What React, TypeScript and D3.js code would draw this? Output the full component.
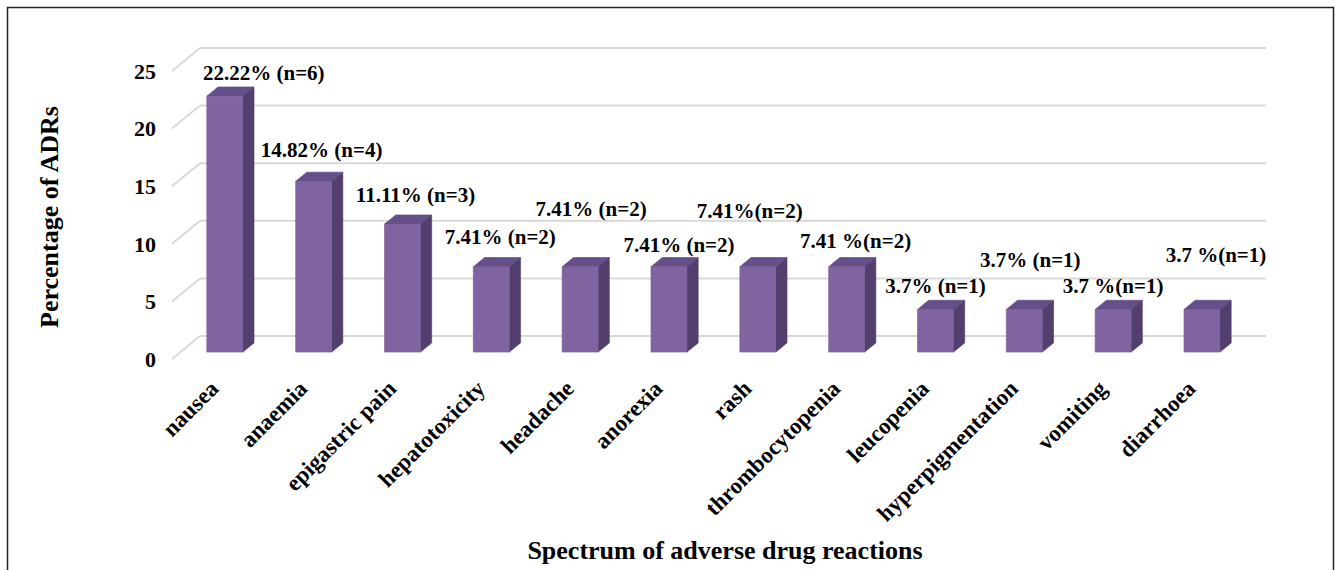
import React from "react";
import * as d3 from "d3";

const categories = [
  "nausea",
  "anaemia",
  "epigastric pain",
  "hepatotoxicity",
  "headache",
  "anorexia",
  "rash",
  "thrombocytopenia",
  "leucopenia",
  "hyperpigmentation",
  "vomiting",
  "diarrhoea",
];
const values = [22.22, 14.82, 11.11, 7.41, 7.41, 7.41, 7.41, 7.41, 3.7, 3.7, 3.7, 3.7];
const valueLabels = [
  "22.22% (n=6)",
  "14.82% (n=4)",
  "11.11% (n=3)",
  "7.41% (n=2)",
  "7.41% (n=2)",
  "7.41% (n=2)",
  "7.41%(n=2)",
  "7.41 %(n=2)",
  "3.7% (n=1)",
  "3.7% (n=1)",
  "3.7 %(n=1)",
  "3.7 %(n=1)",
];
const yTicks = [0, 5, 10, 15, 20, 25];

// layout: manual label offsets (dx from bar centre, dy from bar top), as in the source
const labelOffsets: [number, number][] = [
  [39, -16],
  [8, -24],
  [13, -22],
  [9, -23],
  [11, -51],
  [10, -15],
  [-8, -49],
  [9, -19],
  [0, -16],
  [6, -42],
  [0, -16],
  [14, -47],
];

const W = 1337;
const H = 570;
const FONT = "'Liberation Serif', 'Times New Roman', serif";
const DX = 28;
const DY = -23;
const D0 = 0.3;
const D1 = 0.7;

export default function App() {
  const x = d3
    .scaleBand<string>()
    .domain(categories)
    .range([172, 1238])
    .paddingInner(0.595)
    .paddingOuter(0.2975);
  const y = d3.scaleLinear().domain([0, 25]).range([359, 71]);
  const bw = x.bandwidth();
  const sdx = (D1 - D0) * DX;
  const sdy = (D1 - D0) * DY;

  return (
    <svg
      width={W}
      height={H}
      style={{ position: "absolute", left: 0, top: 0, background: "#fff" }}
      fontFamily={FONT}
      fontWeight="bold"
    >
      <rect x={7.5} y={7.5} width={1326} height={600} fill="#fff" stroke="#222" strokeWidth={1.5} />
      {/* gridlines */}
      {yTicks.map((t) => {
        const yf = y(t);
        const [r0] = x.range();
        const r1 = x.range()[1];
        return (
          <g key={t}>
            <line x1={r0} y1={yf} x2={r0 + DX} y2={yf + DY} stroke="#d9d9d9" strokeWidth={2} />
            <line x1={r0 + DX} y1={yf + DY} x2={r1 + DX} y2={yf + DY} stroke="#d9d9d9" strokeWidth={2} />
            <text x={156} y={yf} dy="0.35em" textAnchor="end" fontSize={22} fill="#000">
              {t}
            </text>
          </g>
        );
      })}
      {/* bars */}
      {categories.map((c, i) => {
        const x0 = (x(c) as number) + D0 * DX;
        const x1 = x0 + bw;
        const yT = y(values[i]) + D0 * DY;
        const yB = y(0) + D0 * DY;
        const front = `M${x0},${yT}L${x1},${yT}L${x1},${yB}L${x0},${yB}Z`;
        const side = `M${x1},${yT}L${x1 + sdx},${yT + sdy}L${x1 + sdx},${yB + sdy}L${x1},${yB}Z`;
        const top = `M${x0},${yT}L${x1},${yT}L${x1 + sdx},${yT + sdy}L${x0 + sdx},${yT + sdy}Z`;
        return (
          <g key={c}>
            <path d={side} fill="#533f6d" stroke="#4a3963" strokeWidth={0.6} />
            <path d={top} fill="#654f8a" stroke="#5a477c" strokeWidth={0.6} />
            <path d={front} fill="#8064a2" stroke="#735a93" strokeWidth={0.6} />
          </g>
        );
      })}
      {/* value labels */}
      {categories.map((c, i) => {
        const cx = (x(c) as number) + D0 * DX + bw / 2;
        const yT = y(values[i]) + D0 * DY;
        const [ox, oy] = labelOffsets[i];
        return (
          <text key={"l" + c} x={cx + ox} y={yT + oy} textAnchor="middle" fontSize={21} fill="#000">
            {valueLabels[i]}
          </text>
        );
      })}
      {/* category labels */}
      {categories.map((c) => {
        const cx = (x(c) as number) + D0 * DX + bw / 2 - 5;
        const ty = 390;
        return (
          <text
            key={"c" + c}
            x={cx}
            y={ty}
            textAnchor="end"
            fontSize={23}
            fill="#000"
            transform={`rotate(-45 ${cx} ${ty})`}
          >
            {c}
          </text>
        );
      })}
      <text x={725} y={559} textAnchor="middle" fontSize={26} fill="#000">
        Spectrum of adverse drug reactions
      </text>
      <text x={58} y={217} textAnchor="middle" fontSize={26} fill="#000" transform="rotate(-90 58 217)">
        Percentage of ADRs
      </text>
    </svg>
  );
}
